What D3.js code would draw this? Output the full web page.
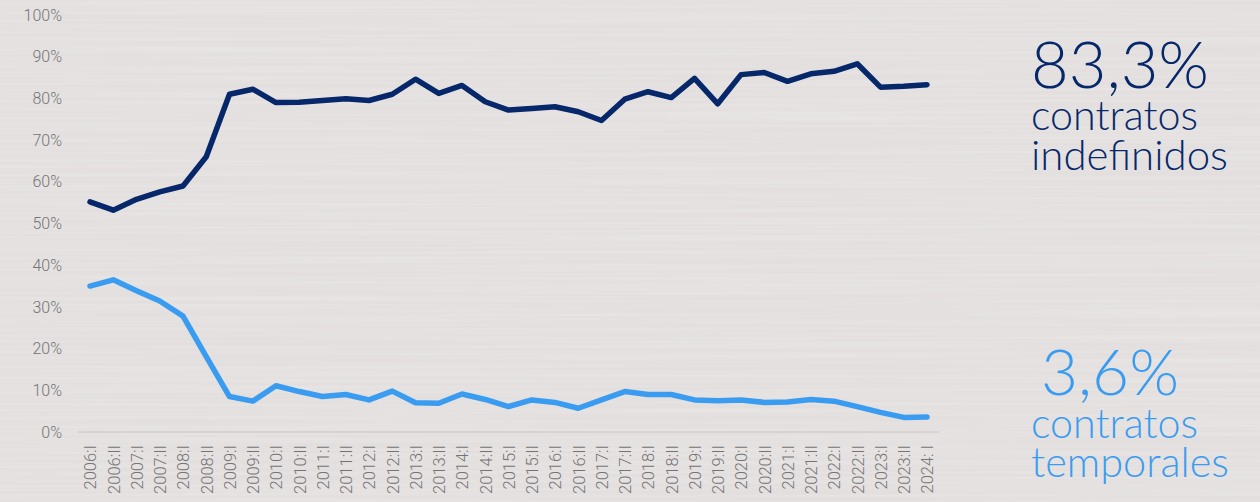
<!DOCTYPE html>
<html><head><meta charset="utf-8">
<script src="https://cdn.jsdelivr.net/npm/d3@7"></script>
<style>html,body{margin:0;padding:0;background:#e4e0e0;}svg{display:block;}</style>
</head><body>
<svg id="chart" width="1260" height="502"></svg>
<script>
const periods = ["2006:I","2006:II","2007:I","2007:II","2008:I","2008:II","2009:I","2009:II","2010:I","2010:II",
"2011:I","2011:II","2012:I","2012:II","2013:I","2013:II","2014:I","2014:II","2015:I","2015:II",
"2016:I","2016:II","2017:I","2017:II","2018:I","2018:II","2019:I","2019:II","2020:I","2020:II",
"2021:I","2021:II","2022:I","2022:II","2023:I","2023:II","2024: I"];
const indefinidos = [55.2,53.2,55.8,57.6,59.0,66.0,81.0,82.2,79.0,79.1,79.5,79.9,79.5,81.0,84.6,81.2,83.1,79.2,77.2,77.6,
78.0,76.8,74.7,79.8,81.6,80.2,84.8,78.7,85.7,86.2,84.1,85.9,86.5,88.3,82.7,82.9,83.3];
const temporales = [35.0,36.5,33.9,31.4,27.8,18.1,8.5,7.4,11.1,9.7,8.5,9.0,7.7,9.8,7.0,6.9,9.1,7.8,6.1,7.7,
7.1,5.7,7.7,9.7,9.0,9.0,7.7,7.5,7.7,7.1,7.2,7.8,7.4,6.1,4.7,3.5,3.6];
const yTicks = [0,10,20,30,40,50,60,70,80,90,100];
const labelIndef = ["83,3%","contratos","indefinidos"];
const labelTemp = ["3,6%","contratos","temporales"];

const svg = d3.select("#chart");
const defs = svg.append("defs");
const f = defs.append("filter").attr("id","brush").attr("x",0).attr("y",0).attr("width","100%").attr("height","100%");
f.append("feTurbulence").attr("type","fractalNoise").attr("baseFrequency","0.002 0.35").attr("numOctaves",2).attr("seed",3).attr("result","n");
f.append("feColorMatrix").attr("in","n").attr("type","matrix")
 .attr("values","0 0 0 0 1  0 0 0 0 1  0 0 0 0 1  0 0 0 0.35 -0.12");
svg.append("rect").attr("width",1260).attr("height",502).attr("fill","#e3dfdf");
svg.append("rect").attr("width",1260).attr("height",502).attr("filter","url(#brush)");

const x = d3.scalePoint().domain(periods).range([90,927]);
const y = d3.scaleLinear().domain([0,100]).range([432,15]);

// y labels
const yAxis = d3.axisLeft(y).tickValues(yTicks).tickFormat(d=>d+"%").tickSize(0).tickPadding(0);
const gy = svg.append("g").attr("transform","translate(62,0)").call(yAxis);
gy.select(".domain").remove();
gy.selectAll("text").attr("fill","#747474").style("font-family","Roboto").style("font-weight",300).style("font-size","16px");

// baseline
svg.append("line").attr("x1",78).attr("x2",939).attr("y1",y(0)).attr("y2",y(0)).attr("stroke","#d2cece").attr("stroke-width",1.5);

// x labels
const xAxis = d3.axisBottom(x).tickSize(0).tickPadding(0);
const gx = svg.append("g").attr("transform","translate(0,445)").call(xAxis);
gx.select(".domain").remove();
gx.selectAll("text").attr("fill","#747474").style("font-family","Roboto").style("font-weight",300).style("font-size","16.5px")
  .attr("transform","rotate(-90)").attr("text-anchor","end").attr("x",0).attr("y",0).attr("dy","0.36em");

const line = d3.line().x((d,i)=>x(periods[i])).y(d=>y(d));
svg.append("path").datum(indefinidos).attr("d",line).attr("fill","none").attr("stroke","#06286a").attr("stroke-width",5.5).attr("stroke-linejoin","round").attr("stroke-linecap","round");
svg.append("path").datum(temporales).attr("d",line).attr("fill","none").attr("stroke","#3a9cf0").attr("stroke-width",5.5).attr("stroke-linejoin","round").attr("stroke-linecap","round");

function block(lines, xs, bases, widths, color){
  const t = svg.append("text").attr("fill",color).style("font-family","Lato").style("font-weight",300);
  lines.forEach((s,i)=>{
    const sp = t.append("tspan").text(s).attr("x",xs[i]).attr("y",bases[i]).style("font-size","40px");
    const cw = sp.node().getComputedTextLength();
    sp.style("font-size",(40*widths[i]/cw).toFixed(2)+"px");
  });
}
block(labelIndef,[1031,1031,1031],[88,130,170],[178,167,197],"#06286a");
block(labelTemp,[1041,1031,1031],[395,438,477],[138,167,198],"#3a9cf0");
</script>
</body></html>
